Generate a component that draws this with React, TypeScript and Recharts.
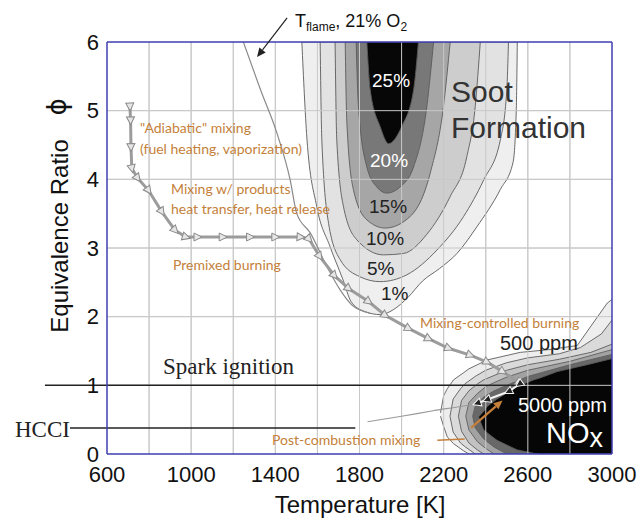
import React from "react";
import {
  Area,
  CartesianGrid,
  ComposedChart,
  Line,
  ReferenceLine,
  XAxis,
  YAxis,
} from "recharts";

const xTicks = [600, 1000, 1400, 1800, 2200, 2600, 3000];
const yTicks = [0, 1, 2, 3, 4, 5, 6];
const gridTemps = [800, 1000, 1200, 1400, 1600, 1800, 2000, 2200, 2400, 2600, 2800];
const gridPhis = [1, 2, 3, 4, 5];

// soot contours: lower edge [T, phi], left wall -> bottom -> right wall
const soot1 = [[1526, 6], [1550, 4.6], [1597, 3.6], [1660, 3.02], [1720, 2.55], [1760, 2.22], [1820, 2.08], [1900, 2.03], [1960, 2.1], [2030, 2.28], [2100, 2.52], [2180, 2.7], [2263, 2.92], [2358, 3.31], [2469, 3.85], [2530, 4.25], [2545, 5.0], [2550, 6]];
const soot5 = [[1613, 6], [1621, 4.57], [1653, 3.36], [1708, 2.83], [1803, 2.58], [1898, 2.51], [2025, 2.61], [2168, 2.97], [2295, 3.46], [2390, 3.99], [2469, 4.57], [2500, 5.3], [2508, 6]];
const soot10 = [[1684, 6], [1692, 4.57], [1724, 3.6], [1787, 3.12], [1914, 2.9], [2009, 2.92], [2120, 3.2], [2231, 3.75], [2310, 4.33], [2350, 5.06], [2374, 6]];
const soot15 = [[1732, 6], [1740, 4.82], [1771, 3.85], [1835, 3.41], [1922, 3.29], [2041, 3.46], [2136, 4.09], [2199, 5.06], [2231, 6]];
const soot20 = [[1784, 6], [1795, 5.06], [1835, 4.18], [1882, 3.89], [1930, 3.8], [1993, 3.89], [2057, 4.18], [2120, 5.06], [2152, 6]];
const soot25 = [[1835, 6], [1851, 5.3], [1898, 4.77], [1938, 4.52], [2001, 4.77], [2057, 5.3], [2080, 6]];

// NOx contours: [T, low phi, high phi], 500 ppm outside -> 5000 ppm inside
const nox1 = [[2185, 0.55, 0.6], [2200, 0.4, 0.85], [2217, 0.25, 0.95], [2247, 0.15, 1.08], [2293, 0.05, 1.18], [2320, 0, 1.24], [2407, 0, 1.37], [2564, 0, 1.48], [2700, 0, 1.52], [2835, 0, 1.58], [2897, 0, 1.85], [2978, 0, 2.2], [3000, 0, 2.25]];
const nox2 = [[2230, 0.55, 0.55], [2245, 0.32, 0.8], [2280, 0.16, 0.95], [2300, 0.11, 1.02], [2350, 0, 1.13], [2400, 0, 1.22], [2500, 0, 1.33], [2600, 0, 1.4], [2750, 0, 1.46], [2850, 0, 1.55], [2950, 0, 1.75], [3000, 0, 1.95]];
const nox3 = [[2270, 0.55, 0.55], [2285, 0.33, 0.78], [2320, 0.16, 0.92], [2360, 0.06, 1.02], [2390, 0, 1.08], [2500, 0, 1.22], [2600, 0, 1.3], [2750, 0, 1.38], [2900, 0, 1.48], [3000, 0, 1.6]];
const nox4 = [[2305, 0.55, 0.55], [2320, 0.35, 0.75], [2360, 0.18, 0.88], [2400, 0.08, 0.98], [2440, 0, 1.04], [2500, 0, 1.12], [2600, 0, 1.22], [2800, 0, 1.35], [3000, 0, 1.52]];
const nox5 = [[2338, 0.55, 0.55], [2350, 0.38, 0.7], [2390, 0.22, 0.83], [2440, 0.1, 0.92], [2500, 0, 1.0], [2600, 0, 1.13], [2800, 0, 1.3], [3000, 0, 1.45]];
const nox6 = [[2366, 0.54, 0.54], [2390, 0.35, 0.62], [2406, 0.31, 0.69], [2453, 0.2, 0.8], [2500, 0.13, 0.89], [2549, 0.06, 0.98], [2628, 0.01, 1.08], [2660, 0, 1.11], [2739, 0, 1.2], [2881, 0, 1.3], [3000, 0, 1.39]];

// mixing trajectory [T, phi]
const mixingPath = [[709, 5.06], [712, 4.86], [714, 4.47], [718, 4.16], [745, 4.02], [797, 3.84], [860, 3.53], [923, 3.26], [975, 3.16], [1030, 3.16], [1150, 3.16], [1280, 3.16], [1400, 3.16], [1520, 3.16], [1560, 3.13], [1610, 2.88], [1680, 2.6], [1748, 2.41], [1843, 2.22], [1922, 2.02], [2033, 1.83], [2128, 1.68], [2223, 1.54], [2326, 1.44], [2406, 1.34], [2480, 1.2], [2560, 1.04]];
const returnPath = [[2560, 1.02], [2509, 0.91], [2406, 0.79], [2360, 0.74]];
const postMixing = [[1838, 0.47], [2000, 0.55], [2150, 0.63], [2314, 0.71], [2360, 0.74]];
const flameLine = [[1248, 6], [1330, 5.3], [1408, 4.67], [1470, 4.0], [1502, 3.5], [1566, 3.22], [1645, 2.73], [1708, 2.39], [1764, 2.17], [1850, 2.05]];

const sootFills = ["#efefef", "#e2e2e2", "#cdcdcd", "#a6a6a6", "#787878", "#070707"];
const noxFills = ["#eeeeee", "#dadada", "#c2c2c2", "#a2a2a2", "#686868", "#060606"];
const orange = "#c47f3a";
const frame = "#3e3eb2";
const gridColor = "#c8c8c8";

const asRange = (pts: number[][]) => pts.map(([T, phi]) => ({ T, r: [phi, 6] }));
const asBand = (rows: number[][]) => rows.map(([T, lo, hi]) => ({ T, r: [lo, hi] }));
const asLine = (pts: number[][]) => pts.map(([T, phi]) => ({ T, phi }));

const makeTri = (fill: string, stroke: string) => (p: any) => {
  const { cx, cy, index, points } = p;
  if (cx == null || cy == null) return <g key={`t-${index}`} />;
  let ang = 0;
  if (points && points.length > 1) {
    const a = points[Math.max(0, index - 1)];
    const b = points[Math.min(points.length - 1, index + 1)];
    ang = (Math.atan2(b.y - a.y, b.x - a.x) * 180) / Math.PI;
  }
  return (
    <path
      key={`t-${index}`}
      d="M4.5,0 L-3.5,-4 L-3.5,4 Z"
      transform={`translate(${cx},${cy}) rotate(${ang})`}
      fill={fill}
      stroke={stroke}
      strokeWidth={1}
    />
  );
};

const arrowShape = (color: string, width: number) => (p: any) => {
  const { x1, y1, x2, y2 } = p;
  const a = Math.atan2(y2 - y1, x2 - x1);
  const L = 9;
  const w = 4;
  const bx = x2 - L * Math.cos(a);
  const by = y2 - L * Math.sin(a);
  const pts = `${x2},${y2} ${bx + w * Math.sin(a)},${by - w * Math.cos(a)} ${bx - w * Math.sin(a)},${by + w * Math.cos(a)}`;
  return (
    <g>
      <line x1={x1} y1={y1} x2={bx} y2={by} stroke={color} strokeWidth={width} />
      <polygon points={pts} fill={color} />
    </g>
  );
};

const axisTick = { fill: "#111", fontSize: 22, fontFamily: "Liberation Sans, Arial, sans-serif" };

function Annotations() {
  const sans = "Liberation Sans, Arial, sans-serif";
  const lab = "Lato, 'Open Sans', sans-serif";
  const serif = "Liberation Serif, 'Times New Roman', serif";
  return (
    <svg width={639} height={519} style={{ position: "absolute", left: 0, top: 0, pointerEvents: "none" }}>
      <text x={295} y={27} fontFamily={sans} fontSize={18} fill="#111">
        T<tspan fontSize={12} dy={4}>flame</tspan>
        <tspan dy={-4}>, 21% O</tspan>
        <tspan fontSize={12} dy={4}>2</tspan>
      </text>

      <g fontFamily={lab} fontSize={14} fill={orange}>
        <text x={140} y={133}>"Adiabatic" mixing</text>
        <text x={140} y={154}>(fuel heating, vaporization)</text>
        <text x={171} y={194}>Mixing w/ products</text>
        <text x={171} y={214}>heat transfer, heat release</text>
        <text x={173} y={270}>Premixed burning</text>
        <text x={420} y={328}>Mixing-controlled burning</text>
        <text x={272} y={445}>Post-combustion mixing</text>
      </g>

      <g fontFamily={sans} fontSize={19}>
        <text x={372} y={87} fill="#fff">25%</text>
        <text x={370} y={167} fill="#fff">20%</text>
        <text x={369} y={213} fill="#222">15%</text>
        <text x={366} y={245} fill="#222">10%</text>
        <text x={367} y={275} fill="#222">5%</text>
        <text x={381} y={300} fill="#222">1%</text>
      </g>

      <text x={451} y={102} fontFamily={sans} fontSize={30} fill="#333">Soot</text>
      <text x={451} y={138} fontFamily={sans} fontSize={30} fill="#333">Formation</text>

      <text x={500} y={350} fontFamily={sans} fontSize={20} fill="#222">500 ppm</text>
      <text x={518} y={412} fontFamily={sans} fontSize={20} fill="#fff">5000 ppm</text>
      <text x={546} y={443} fontFamily={sans} fontSize={29} fill="#fff">
        NO<tspan fontSize={27} dy={4}>x</tspan>
      </text>

      <text x={163} y={374} fontFamily={serif} fontSize={23} fill="#222">Spark ignition</text>
      <text x={15} y={437} fontFamily={serif} fontSize={23} fill="#222">HCCI</text>

      <text x={360} y={513} textAnchor="middle" fontFamily={sans} fontSize={24} fill="#111">
        Temperature [K]
      </text>
      <text
        x={68}
        y={236}
        textAnchor="middle"
        transform="rotate(-90 68 236)"
        fontFamily={sans}
        fontSize={24}
        fill="#111"
      >
        Equivalence Ratio
      </text>
      <text
        x={66}
        y={107}
        textAnchor="middle"
        transform="rotate(-90 66 107)"
        fontFamily="DejaVu Sans, sans-serif"
        fontSize={26}
        fill="#111"
      >
        ϕ
      </text>
    </svg>
  );
}

export default function App() {
  const sootSets = [soot1, soot5, soot10, soot15, soot20, soot25];
  const noxSets = [nox1, nox2, nox3, nox4, nox5, nox6];
  return (
    <div style={{ position: "absolute", left: 0, top: 0, width: 639, height: 519, background: "#fff" }}>
      <ComposedChart width={639} height={519} margin={{ top: 42, right: 27, bottom: 35, left: 0 }}>
        <CartesianGrid stroke={gridColor} verticalValues={gridTemps} horizontalValues={gridPhis} />
        <XAxis
          dataKey="T"
          type="number"
          domain={[600, 3000]}
          ticks={xTicks}
          allowDataOverflow
          height={30}
          tick={axisTick}
          tickMargin={6}
          tickLine={false}
          axisLine={{ stroke: frame, strokeWidth: 1.5 }}
        />
        <YAxis
          type="number"
          domain={[0, 6]}
          ticks={yTicks}
          allowDataOverflow
          width={107}
          tick={axisTick}
          tickLine={false}
          axisLine={{ stroke: frame, strokeWidth: 1.5 }}
        />

        {gridTemps.map((T) => (
          <Line
            key={`gx-${T}`}
            data={[{ T, phi: 0 }, { T, phi: 6 }]}
            dataKey="phi"
            stroke={gridColor}
            strokeWidth={1}
            dot={false}
            activeDot={false}
            isAnimationActive={false}
          />
        ))}
        {gridPhis.map((phi) => (
          <Line
            key={`gy-${phi}`}
            data={[{ T: 600, phi }, { T: 3000, phi }]}
            dataKey="phi"
            stroke={gridColor}
            strokeWidth={1}
            dot={false}
            activeDot={false}
            isAnimationActive={false}
          />
        ))}

        {noxSets.map((rows, i) => (
          <Area
            key={`nox-${i}`}
            data={asBand(rows)}
            dataKey="r"
            type="linear"
            fill={noxFills[i]}
            fillOpacity={1}
            stroke="#5e5e5e"
            strokeWidth={0.9}
            dot={false}
            activeDot={false}
            isAnimationActive={false}
          />
        ))}
        {sootSets.map((pts, i) => (
          <Area
            key={`soot-${i}`}
            data={asRange(pts)}
            dataKey="r"
            type="monotoneX"
            fill={sootFills[i]}
            fillOpacity={1}
            stroke="#5a5a5a"
            strokeWidth={0.9}
            dot={false}
            activeDot={false}
            isAnimationActive={false}
          />
        ))}

        <Line
          data={asLine(flameLine)}
          dataKey="phi"
          type="monotone"
          stroke="#8a8a8a"
          strokeWidth={1.2}
          dot={false}
          activeDot={false}
          isAnimationActive={false}
        />
        <Line
          data={asLine(postMixing)}
          dataKey="phi"
          type="monotone"
          stroke="#9a9a9a"
          strokeWidth={1.2}
          dot={false}
          activeDot={false}
          isAnimationActive={false}
        />
        <Line
          data={asLine(mixingPath)}
          dataKey="phi"
          type="linear"
          stroke="#9c9c9c"
          strokeWidth={3}
          dot={makeTri("#e6e6e6", "#8a8a8a")}
          activeDot={false}
          isAnimationActive={false}
        />
        <Line
          data={asLine(returnPath)}
          dataKey="phi"
          type="linear"
          stroke="#f4f4f4"
          strokeWidth={2}
          dot={makeTri("#222", "#f4f4f4")}
          activeDot={false}
          isAnimationActive={false}
        />

        <ReferenceLine x={3000} stroke={frame} strokeWidth={1.5} />
        <ReferenceLine y={6} stroke={frame} strokeWidth={1.5} />
        <ReferenceLine
          segment={[{ x: 305, y: 1 }, { x: 2555, y: 1 }]}
          ifOverflow="visible"
          stroke="#222"
          strokeWidth={1.5}
        />
        <ReferenceLine
          segment={[{ x: 424, y: 0.38 }, { x: 1780, y: 0.38 }]}
          ifOverflow="visible"
          stroke="#222"
          strokeWidth={1.5}
        />
        <ReferenceLine
          segment={[{ x: 1456, y: 6.35 }, { x: 1313, y: 5.78 }]}
          ifOverflow="visible"
          shape={arrowShape("#222", 1.2)}
        />
        <ReferenceLine
          segment={[{ x: 2170, y: 0.2 }, { x: 2300, y: 0.22 }]}
          ifOverflow="visible"
          stroke={orange}
          strokeWidth={1.5}
        />
        <ReferenceLine
          segment={[{ x: 2330, y: 0.38 }, { x: 2480, y: 0.78 }]}
          ifOverflow="visible"
          shape={arrowShape(orange, 2.2)}
        />
      </ComposedChart>
      <Annotations />
    </div>
  );
}
